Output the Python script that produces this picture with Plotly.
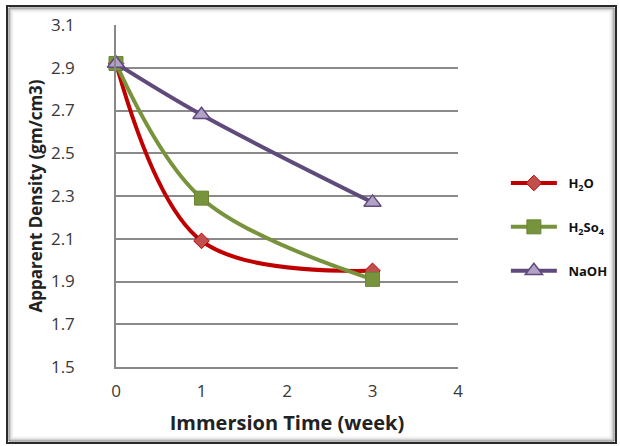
import plotly.graph_objects as go

weeks = [0, 1, 3]
h2o = [2.92, 2.09, 1.95]
h2so4 = [2.92, 2.29, 1.91]
naoh = [2.92, 2.68, 2.27]
names = ["H<sub>2</sub>O", "H<sub>2</sub>So<sub>4</sub>", "NaOH"]
y_ticks = [1.5, 1.7, 1.9, 2.1, 2.3, 2.5, 2.7, 2.9, 3.1]
x_ticks = [0, 1, 2, 3, 4]

W, H = 620, 446
L, R, T, B = 116, 162, 25, 79
pw, ph = W - L - R, H - T - B

def px(x):
    return (x - L) / pw

def py(y):
    return (H - B - y) / ph

fig = go.Figure()
styles = [
    dict(line=dict(color="#C00000", width=4), marker=dict(symbol="diamond", size=12, color="#C0504D", line=dict(color="#C00000", width=1))),
    dict(line=dict(color="#77933C", width=4), marker=dict(symbol="square", size=14, color="#77933C", line=dict(color="#6A8535", width=1))),
    dict(line=dict(color="#604A7B", width=4), marker=dict(symbol="triangle-up", size=15, color="#B3A2C7", line=dict(color="#604A7B", width=1.5))),
]
for i, (vals, nm) in enumerate(zip([h2o, h2so4, naoh], names)):
    fig.add_trace(go.Scatter(x=weeks, y=vals, name="\u2002<b>" + nm + "</b>", mode="lines+markers",
                             line_shape="spline", legendgroup=str(i), cliponaxis=False,
                             **styles[i]))

shapes = []
# frame with inner shadow
frame = [(0, "#2a2a2a", 2), (2, "#777777", 1), (3, "#aaaaaa", 1), (4, "#cfcfcf", 1), (5, "#e6e6e6", 1), (6, "#f3f3f3", 1)]
x0p, y0p, x1p, y1p = 7, 6, 616, 443
for off, col, w in frame:
    shapes.append(dict(type="rect", xref="paper", yref="paper",
                       x0=px(x0p + off), x1=px(x1p - off), y0=py(y1p - off), y1=py(y0p + off),
                       line=dict(color=col, width=w), fillcolor="rgba(0,0,0,0)", layer="below"))

fig.update_layout(
    width=W, height=H,
    margin=dict(l=L, r=R, t=T, b=B, autoexpand=False),
    paper_bgcolor="white", plot_bgcolor="white",
    shapes=shapes,
    font=dict(family="Open Sans", color="#333333"),
    xaxis=dict(range=[0, 4], tickvals=x_ticks, ticktext=[str(v) for v in x_ticks],
               showgrid=False, showline=True, linecolor="#888888", linewidth=1.5,
               zeroline=False, ticks="", ticklabelstandoff=8,
               tickfont=dict(size=17, color="#383838"),
               title=dict(text="<b>Immersion Time (week)</b>", font=dict(size=20, color="#222222"), standoff=15)),
    yaxis=dict(range=[1.5, 3.1], tickvals=y_ticks, ticktext=[f"{v:.1f}" for v in y_ticks],
               showgrid=True, gridcolor="#8a8a8a", gridwidth=1.5,
               showline=True, linecolor="#888888", linewidth=1.5,
               zeroline=False, ticks="", ticklabelstandoff=36,
               tickfont=dict(size=17, color="#383838"),
               title=dict(text="<b>Apparent Density (gm/cm3)</b>", font=dict(size=17, color="#222222"), standoff=4)),
    legend=dict(x=1.14, y=py(168), xanchor="left", yanchor="top",
                itemwidth=46, tracegroupgap=24, bgcolor="rgba(0,0,0,0)",
                font=dict(size=13, color="#111111", family="Open Sans")),
)
fig.write_html("out.html")
